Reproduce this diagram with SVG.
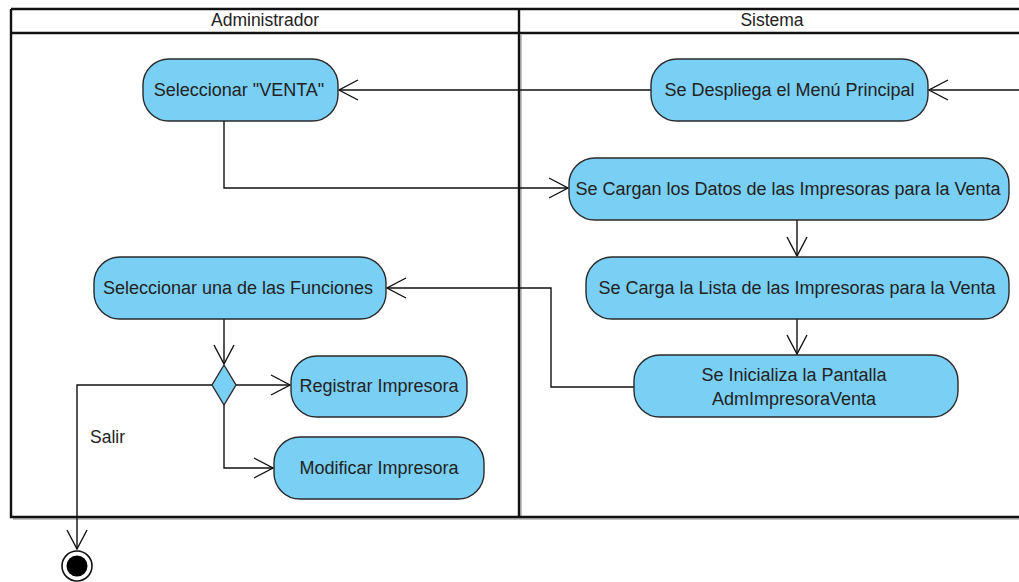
<svg xmlns="http://www.w3.org/2000/svg" width="1019" height="582" viewBox="0 0 1019 582">
<style>
.lane{fill:none;stroke:#111;stroke-width:2.4}
.shadow{fill:none;stroke:#999;stroke-width:2;opacity:0.6}
.node{fill:#7acff5;stroke:#2a2a2a;stroke-width:1.4}
.t{font-family:"Liberation Sans",Arial,sans-serif;font-size:18px;fill:#222;text-anchor:middle}
.h{font-family:"Liberation Sans",Arial,sans-serif;font-size:17.5px;fill:#222;text-anchor:middle}
.c{fill:none;stroke:#111;stroke-width:1.4}
.lbl{font-family:"Liberation Sans",Arial,sans-serif;font-size:17.5px;fill:#222}
</style>
<defs>
<marker id="arr" markerUnits="userSpaceOnUse" markerWidth="24" markerHeight="24" viewBox="-22 -12 24 24" refX="0" refY="0" orient="auto">
<path d="M-19,-10 L0,0 L-19,10" fill="none" stroke="#111" stroke-width="1.4"/>
</marker>
</defs>
<g id="swimlanes">
<path class="shadow" d="M13,519 H1019 M521,35 V519"/>
<path class="lane" d="M11,9 H1019 M11,33 H1019 M11,9 V517 H1019 M519,9 V517"/>
<text class="h" x="265" y="26">Administrador</text>
<text class="h" x="772" y="26">Sistema</text>
</g>
<g id="connectors">
<path class="c" d="M1019,90 H929" marker-end="url(#arr)"/>
<path class="c" d="M651,90 H339" marker-end="url(#arr)"/>
<path class="c" d="M224,121 V188 H568" marker-end="url(#arr)"/>
<path class="c" d="M797,220 V256" marker-end="url(#arr)"/>
<path class="c" d="M797,319 V354" marker-end="url(#arr)"/>
<path class="c" d="M634,387 H551 V288 H387" marker-end="url(#arr)"/>
<path class="c" d="M224,319 V364" marker-end="url(#arr)"/>
<path class="c" d="M236,385 H290" marker-end="url(#arr)"/>
<path class="c" d="M224,405 V468 H273" marker-end="url(#arr)"/>
<path class="c" d="M212,385 H77 V549" marker-end="url(#arr)"/>
<text class="lbl" x="90" y="443">Salir</text>
</g>
<g id="n-venta">
<rect class="node" x="143" y="59" width="195" height="62" rx="26"/>
<text class="t" x="239" y="96">Seleccionar "VENTA"</text>
</g>
<g id="n-menu">
<rect class="node" x="651" y="59" width="277" height="62" rx="26"/>
<text class="t" x="789.5" y="96">Se Despliega el Menú Principal</text>
</g>
<g id="n-cargan">
<rect class="node" x="569" y="158" width="440" height="62" rx="26"/>
<text class="t" x="788" y="195">Se Cargan los Datos de las Impresoras para la Venta</text>
</g>
<g id="n-lista">
<rect class="node" x="586" y="257" width="423" height="62" rx="26"/>
<text class="t" x="797" y="294">Se Carga la Lista de las Impresoras para la Venta</text>
</g>
<g id="n-inicializa">
<rect class="node" x="634" y="355" width="324" height="62" rx="26"/>
<text class="t" x="794" y="381">Se Inicializa la Pantalla</text>
<text class="t" x="794" y="405">AdmImpresoraVenta</text>
</g>
<g id="n-funciones">
<rect class="node" x="94" y="257" width="292" height="62" rx="26"/>
<text class="t" x="238" y="294">Seleccionar una de las Funciones</text>
</g>
<g id="n-decision">
<path class="node" d="M224,365 L236,385 L224,405 L212,385 Z"/>
</g>
<g id="n-registrar">
<rect class="node" x="291" y="356" width="176" height="61" rx="26"/>
<text class="t" x="379" y="392">Registrar Impresora</text>
</g>
<g id="n-modificar">
<rect class="node" x="274" y="437" width="210" height="62" rx="26"/>
<text class="t" x="379" y="474">Modificar Impresora</text>
</g>
<g id="n-final">
<circle cx="77" cy="566" r="15" fill="#fff" stroke="#111" stroke-width="1.6"/>
<circle cx="77" cy="566" r="10.5" fill="#000"/>
</g>
</svg>
